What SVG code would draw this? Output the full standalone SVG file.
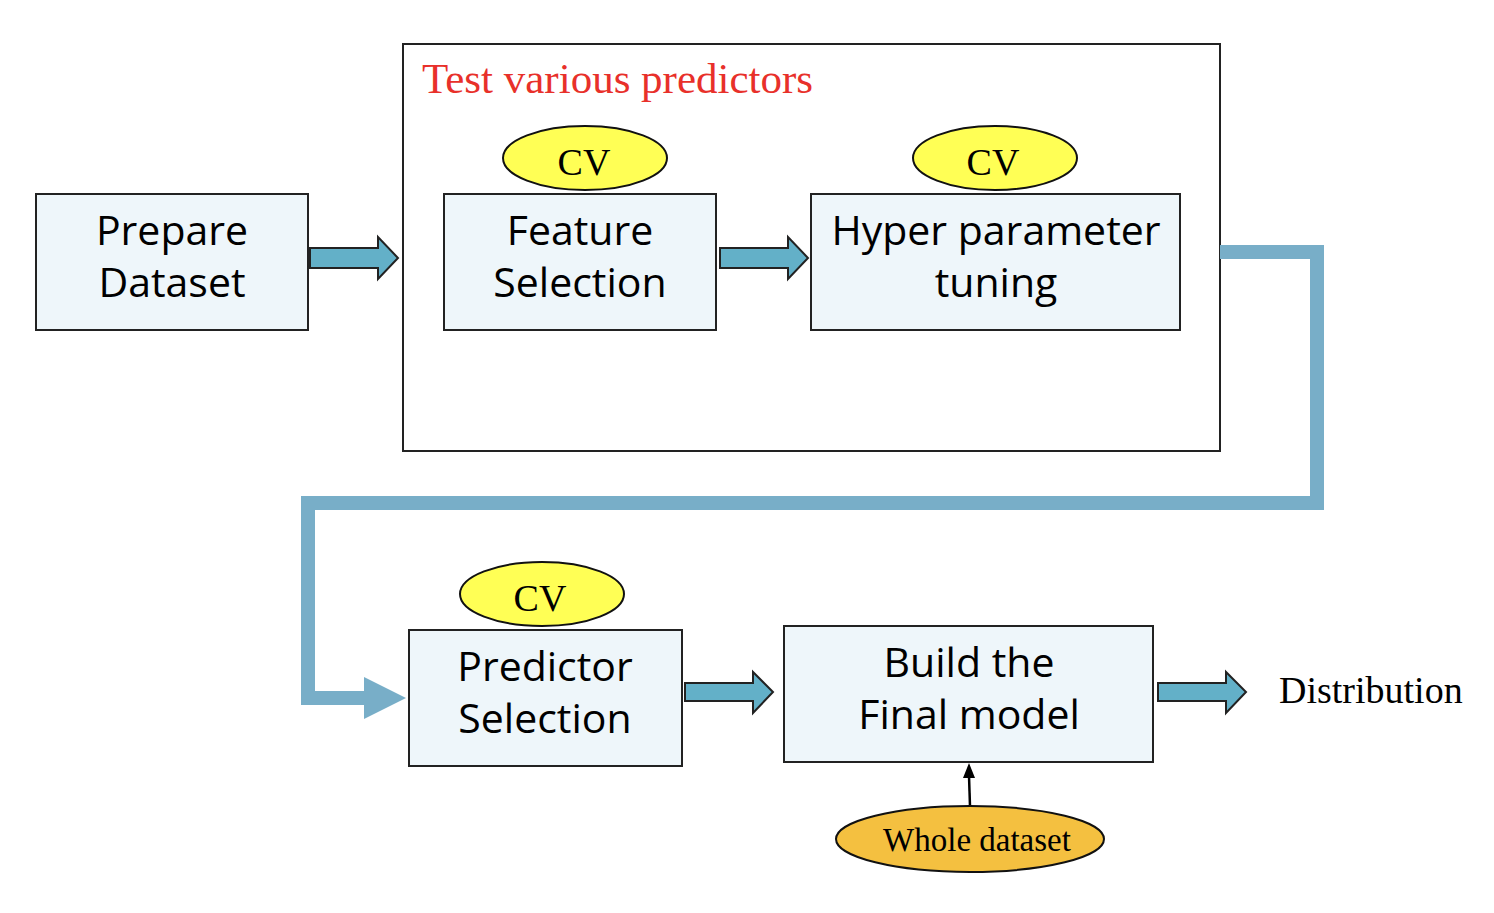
<svg xmlns="http://www.w3.org/2000/svg" width="1494" height="913" viewBox="0 0 1494 913">
<style>
.box{fill:#eef6fa;stroke:#222;stroke-width:2}
.cv{fill:#ffff55;stroke:#111;stroke-width:2}
.bt{font-family:"Open Sans","Noto Sans",sans-serif;font-size:41px;fill:#000;text-anchor:middle}
.st{font-family:"Liberation Serif","Times New Roman",serif;fill:#000;text-anchor:middle}
.barrow{fill:#63b0c8;stroke:#222;stroke-width:2;stroke-linejoin:miter}
</style>
<rect width="1494" height="913" fill="#fff"/>
<g id="container">
<rect x="403" y="44" width="817" height="407" fill="#fff" stroke="#222" stroke-width="2"/>
<text x="422" y="93" font-family="Liberation Serif,serif" font-size="43" fill="#e8302a">Test various predictors</text>
</g>
<g id="connectors">
<polyline points="1220,252 1317,252 1317,503 308,503 308,698 366,698" fill="none" stroke="#78aec8" stroke-width="14"/>
<polygon points="364,677 406,698 364,719" fill="#78aec8"/>
<path class="barrow" d="M310,248 H378 V237 L398,258 L378,279 V268 H310 Z"/>
<path class="barrow" d="M720,248 H788 V237 L808,258 L788,279 V268 H720 Z"/>
<path class="barrow" d="M685,683 H753 V672 L773,692 L753,713 V701 H685 Z"/>
<path class="barrow" d="M1158,683 H1226 V672 L1246,692 L1226,713 V701 H1158 Z"/>
<line x1="970" y1="806" x2="969" y2="776" stroke="#000" stroke-width="2.5"/>
<polygon points="969,763 963,778 975,778" fill="#000"/>
</g>
<g id="prepare">
<rect class="box" x="36" y="194" width="272" height="136"/>
<text class="bt" x="172" y="245">Prepare</text>
<text class="bt" x="172" y="297">Dataset</text>
</g>
<g id="feature">
<rect class="box" x="444" y="194" width="272" height="136"/>
<text class="bt" x="580" y="245">Feature</text>
<text class="bt" x="580" y="297">Selection</text>
</g>
<g id="cv1">
<ellipse class="cv" cx="585" cy="158" rx="82" ry="32"/>
<text class="st" x="584" y="175" font-size="38">CV</text>
</g>
<g id="hyper">
<rect class="box" x="811" y="194" width="369" height="136"/>
<text class="bt" x="996" y="245">Hyper parameter</text>
<text class="bt" x="996" y="297">tuning</text>
</g>
<g id="cv2">
<ellipse class="cv" cx="995" cy="158" rx="82" ry="32"/>
<text class="st" x="993" y="175" font-size="38">CV</text>
</g>
<g id="predictor">
<rect class="box" x="409" y="630" width="273" height="136"/>
<text class="bt" x="545" y="681">Predictor</text>
<text class="bt" x="545" y="733">Selection</text>
</g>
<g id="cv3">
<ellipse class="cv" cx="542" cy="594" rx="82" ry="32"/>
<text class="st" x="540" y="611" font-size="38">CV</text>
</g>
<g id="build">
<rect class="box" x="784" y="626" width="369" height="136"/>
<text class="bt" x="969" y="677">Build the</text>
<text class="bt" x="969" y="729">Final model</text>
</g>
<g id="whole">
<ellipse cx="970" cy="839" rx="134" ry="33" fill="#f4c040" stroke="#111" stroke-width="2"/>
<text class="st" x="977" y="851" font-size="33">Whole dataset</text>
</g>
<g id="distribution">
<text x="1279" y="703" font-family="Liberation Serif,serif" font-size="38" fill="#000">Distribution</text>
</g>
</svg>
